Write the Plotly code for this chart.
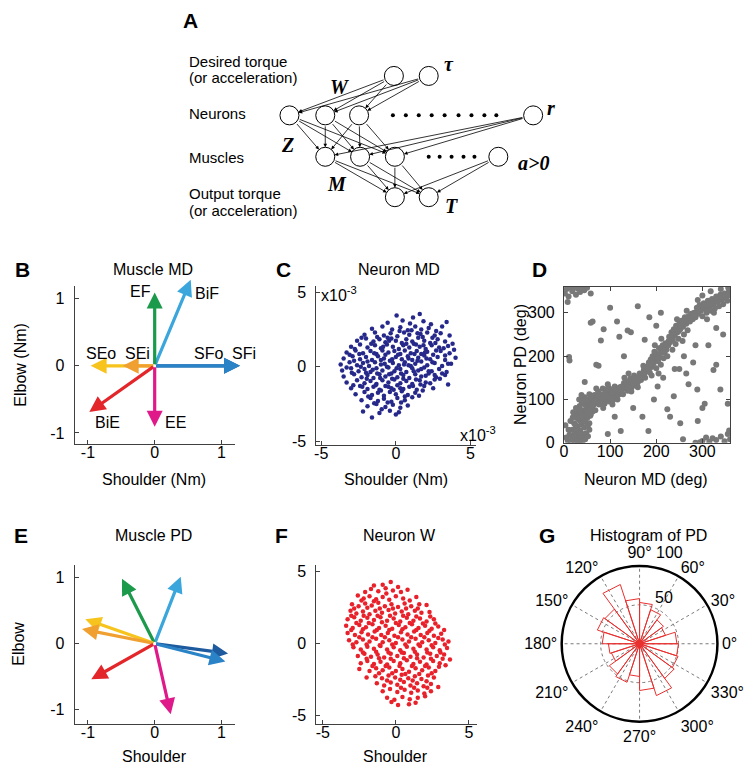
import plotly.graph_objects as go

W, H = 744, 775
FONT = "Liberation Sans, Arial, Helvetica, sans-serif"
SERIF = "Liberation Serif, Times New Roman, serif"
AX = "#404040"

# ------------------------------------------------------------------ data
muscle_names = ["SFo", "SFi", "BiF", "EF", "SEo", "SEi", "BiE", "EE"]
muscle_colors = ["#1d5a9e", "#2a83c6", "#3aa6dc", "#1a9a4a",
                 "#f7c41e", "#f0a030", "#e3262a", "#e0198b"]
# Panel B: muscle mechanical directions (Nm)
muscle_md_shoulder = [1.28, 1.28, 0.54, 0.0, -0.96, -0.48, -0.98, 0.0]
muscle_md_elbow = [0.0, 0.0, 1.28, 1.09, 0.0, 0.0, -0.69, -0.91]
# Panel E: muscle preferred directions
muscle_pd_shoulder = [1.10, 1.06, 0.39, -0.49, -1.04, -1.09, -0.95, 0.24]
muscle_pd_elbow = [-0.15, -0.27, 1.01, 0.98, 0.37, 0.22, -0.54, -1.07]

# Panel C: neuron MD (units of 1e-3 Nm)
neuron_md_pts = [
    (0.05, 3.45), (1.15, 3.3), (1.6, 3.55), (-0.55, 2.95), (0.45, 3.1), (0.95, 2.9), (1.85, 3.05), (2.35, 2.85), (3.4, 3.0),
    (-1.6, 2.55), (-0.9, 2.7), (-0.25, 2.5), (0.3, 2.65), (0.8, 2.45), (1.3, 2.7), (1.7, 2.5), (2.2, 2.6), (2.7, 2.4), (3.1, 2.7),
    (-2.1, 2.15), (-1.4, 2.3), (-0.8, 2.1), (-0.35, 2.25), (0.1, 2.05), (0.55, 2.3), (0.9, 2.15), (1.45, 2.25), (1.8, 2.0), (2.1, 2.3), (2.6, 2.1), (3.0, 2.25), (3.6, 2.1),
    (-2.6, 1.75), (-2.0, 1.9), (-1.5, 1.7), (-1.1, 1.85), (-0.7, 1.65), (-0.3, 1.9), (0.0, 1.75), (0.4, 1.6), (0.7, 1.85), (1.1, 1.7), (1.5, 1.95), (1.9, 1.75), (2.3, 1.6), (2.8, 1.85), (3.3, 1.7), (3.8, 1.55),
    (-3.0, 1.35), (-2.4, 1.5), (-1.9, 1.3), (-1.4, 1.45), (-1.0, 1.25), (-0.6, 1.5), (-0.2, 1.35), (0.2, 1.2), (0.5, 1.45), (0.9, 1.3), (1.2, 1.55), (1.6, 1.35), (2.0, 1.2), (2.4, 1.45), (2.9, 1.3), (3.5, 1.4), (3.9, 1.15),
    (-3.3, 0.95), (-2.7, 1.1), (-2.2, 0.9), (-1.7, 1.05), (-1.3, 0.85), (-0.9, 1.1), (-0.5, 0.95), (-0.1, 1.05), (0.3, 0.85), (0.6, 1.1), (1.0, 0.9), (1.4, 1.05), (1.7, 0.85), (2.1, 1.0), (2.5, 0.8), (3.0, 1.05), (3.6, 0.9),
    (-3.5, 0.55), (-2.9, 0.7), (-2.4, 0.5), (-2.0, 0.65), (-1.6, 0.45), (-1.2, 0.7), (-0.8, 0.55), (-0.4, 0.4), (0.0, 0.65), (0.4, 0.5), (0.8, 0.7), (1.1, 0.45), (1.5, 0.6), (1.9, 0.75), (2.3, 0.5), (2.8, 0.65), (3.3, 0.45), (4.0, 0.6),
    (-3.7, 0.15), (-3.1, 0.3), (-2.6, 0.1), (-2.2, 0.25), (-1.8, 0.05), (-1.4, 0.3), (-1.0, 0.15), (-0.6, 0.0), (-0.2, 0.25), (0.2, 0.1), (0.6, 0.3), (1.0, 0.05), (1.3, 0.2), (1.7, 0.35), (2.1, 0.1), (2.6, 0.25), (3.1, 0.05), (3.7, 0.2),
    (-3.6, -0.25), (-3.0, -0.1), (-2.5, -0.3), (-2.1, -0.15), (-1.7, -0.35), (-1.3, -0.1), (-0.9, -0.25), (-0.5, -0.05), (-0.1, -0.3), (0.3, -0.15), (0.7, -0.35), (1.1, -0.1), (1.5, -0.25), (1.9, -0.05), (2.4, -0.3), (2.9, -0.15), (3.4, -0.35),
    (-3.5, -0.65), (-2.8, -0.5), (-2.3, -0.7), (-1.9, -0.55), (-1.5, -0.75), (-1.1, -0.5), (-0.7, -0.65), (-0.3, -0.45), (0.1, -0.7), (0.5, -0.55), (0.9, -0.75), (1.3, -0.5), (1.7, -0.65), (2.2, -0.45), (2.7, -0.7), (3.3, -0.55),
    (-3.3, -1.05), (-2.6, -0.9), (-2.1, -1.1), (-1.7, -0.95), (-1.3, -1.15), (-0.9, -0.9), (-0.5, -1.05), (-0.1, -0.85), (0.3, -1.1), (0.7, -0.95), (1.1, -1.15), (1.6, -0.9), (2.0, -1.05), (2.6, -0.85), (3.5, -1.2),
    (-3.0, -1.45), (-2.4, -1.3), (-1.9, -1.5), (-1.5, -1.35), (-1.1, -1.55), (-0.7, -1.3), (-0.3, -1.45), (0.1, -1.25), (0.5, -1.5), (0.9, -1.35), (1.4, -1.55), (1.9, -1.3), (2.5, -1.45),
    (-2.7, -1.85), (-2.1, -1.7), (-1.6, -1.9), (-1.2, -1.75), (-0.8, -1.95), (-0.4, -1.7), (0.0, -1.85), (0.4, -1.65), (0.8, -1.9), (1.3, -1.75), (1.8, -1.6),
    (-2.3, -2.25), (-1.7, -2.1), (-1.2, -2.3), (-0.8, -2.15), (-0.3, -2.35), (0.1, -2.1), (0.6, -2.25), (1.1, -2.05),
    (-1.9, -2.65), (-1.3, -2.5), (-0.7, -2.7), (-0.2, -2.55), (0.3, -2.75), (0.8, -2.6),
    (-2.2, -3.0), (-1.1, -3.1), (-0.4, -2.95), (0.2, -3.05), (-1.6, -3.4),
    (-2.3, 1.95), (-1.25, 2.0), (-0.55, 1.95), (0.25, 2.4), (1.05, 2.45), (1.65, 2.2), (2.45, 1.95), (-2.75, 1.2), (-1.65, 1.55), (-0.85, 1.35), (-0.45, 1.75), (0.7, 1.55), (1.35, 1.5), (1.85, 1.45), (2.65, 1.6), (3.2, 1.25),
    (-3.1, 0.8), (-2.45, 0.85), (-1.45, 0.9), (-0.7, 0.8), (0.15, 0.8), (0.85, 0.55), (1.25, 0.85), (1.95, 0.95), (2.7, 1.1), (3.3, 0.75),
    (-2.8, 0.4), (-1.9, 0.35), (-1.0, 0.45), (-0.25, 0.5), (0.55, 0.15), (1.45, 0.4), (2.05, 0.55), (2.45, 0.3), (3.5, 0.2),
    (-3.3, -0.05), (-2.35, 0.0), (-1.55, -0.2), (-0.75, 0.2), (0.05, -0.1), (0.85, 0.1), (1.7, -0.15), (2.2, -0.3), (3.1, -0.45),
    (-2.95, -0.4), (-2.0, -0.4), (-1.25, -0.45), (-0.45, -0.5), (0.35, -0.45), (1.2, -0.3), (2.0, -0.6), (2.6, -0.55),
    (-2.85, -1.25), (-1.95, -0.8), (-1.05, -0.75), (-0.25, -0.8), (0.5, -0.8), (1.35, -0.85), (2.3, -1.1), (2.95, -0.8),
    (-2.25, -1.35), (-1.35, -1.25), (-0.5, -1.35), (0.3, -1.45), (1.15, -1.3), (1.65, -1.2),
    (-1.85, -2.0), (-1.0, -1.6), (-0.15, -1.55), (0.6, -2.0), (1.55, -1.95), (-1.45, -2.45), (-0.55, -2.4), (0.35, -2.4), (-0.95, -2.85), (0.0, -3.2),
]
neuron_md_shoulder = [p[0] for p in neuron_md_pts]
neuron_md_elbow = [p[1] for p in neuron_md_pts]

# Panel F: neuron W
neuron_w_pts = [
    (-1.5, 4.05), (-0.9, 4.1), (-0.35, 4.3), (0.15, 3.95),
    (-2.1, 3.6), (-1.7, 3.8), (-1.2, 3.65), (-0.7, 3.85), (-0.2, 3.7), (0.35, 3.6), (0.8, 3.75),
    (-2.6, 3.35), (-2.2, 3.15), (-1.8, 3.3), (-1.35, 3.1), (-0.9, 3.25), (-0.45, 3.05), (0.0, 3.3), (0.5, 3.15), (0.95, 3.0), (1.4, 3.25),
    (-3.0, 2.75), (-2.55, 2.6), (-2.1, 2.8), (-1.65, 2.65), (-1.2, 2.85), (-0.75, 2.6), (-0.3, 2.75), (0.15, 2.55), (0.6, 2.8), (1.05, 2.6), (1.6, 2.75), (2.1, 2.7),
    (-3.1, 2.3), (-2.7, 2.1), (-2.25, 2.25), (-1.8, 2.05), (-1.4, 2.3), (-0.95, 2.15), (-0.5, 2.35), (-0.05, 2.1), (0.4, 2.25), (0.85, 2.05), (1.3, 2.3), (1.75, 2.15), (2.3, 2.2),
    (-3.3, 1.7), (-2.85, 1.85), (-2.4, 1.6), (-1.95, 1.8), (-1.5, 1.65), (-1.05, 1.85), (-0.6, 1.6), (-0.15, 1.75), (0.3, 1.55), (0.75, 1.8), (1.2, 1.6), (1.65, 1.75), (2.1, 1.55), (2.6, 1.7),
    (-3.4, 1.25), (-2.95, 1.1), (-2.5, 1.3), (-2.05, 1.15), (-1.6, 1.35), (-1.15, 1.1), (-0.7, 1.25), (-0.25, 1.05), (0.2, 1.3), (0.65, 1.15), (1.1, 1.35), (1.55, 1.1), (2.0, 1.25), (2.45, 1.05), (2.9, 1.2),
    (-3.3, 0.75), (-2.8, 0.6), (-2.35, 0.8), (-1.9, 0.65), (-1.45, 0.85), (-1.0, 0.6), (-0.55, 0.75), (-0.1, 0.55), (0.35, 0.8), (0.8, 0.65), (1.25, 0.85), (1.7, 0.6), (2.15, 0.75), (2.6, 0.55), (3.1, 0.7),
    (-3.2, 0.25), (-2.7, 0.1), (-2.25, 0.3), (-1.8, 0.15), (-1.35, 0.35), (-0.9, 0.1), (-0.45, 0.25), (0.0, 0.05), (0.45, 0.3), (0.9, 0.15), (1.35, 0.35), (1.8, 0.1), (2.25, 0.25), (2.7, 0.05), (3.2, 0.3), (3.6, 0.15),
    (-2.9, -0.25), (-2.4, -0.4), (-1.95, -0.2), (-1.5, -0.35), (-1.05, -0.15), (-0.6, -0.4), (-0.15, -0.25), (0.3, -0.45), (0.75, -0.2), (1.2, -0.35), (1.65, -0.15), (2.1, -0.4), (2.55, -0.25), (3.0, -0.45), (3.5, -0.3),
    (-2.6, -0.85), (-2.15, -0.7), (-1.7, -0.9), (-1.25, -0.75), (-0.8, -0.95), (-0.35, -0.7), (0.1, -0.85), (0.55, -0.65), (1.0, -0.9), (1.45, -0.75), (1.9, -0.95), (2.35, -0.7), (2.8, -0.85), (3.3, -0.75), (3.7, -1.1),
    (-2.4, -1.35), (-1.95, -1.2), (-1.5, -1.4), (-1.05, -1.25), (-0.6, -1.45), (-0.15, -1.2), (0.3, -1.35), (0.75, -1.15), (1.2, -1.4), (1.65, -1.25), (2.1, -1.45), (2.55, -1.2), (3.0, -1.35), (3.4, -1.5),
    (-2.5, -1.75), (-1.8, -1.9), (-1.35, -1.7), (-0.9, -1.85), (-0.45, -1.65), (0.0, -1.9), (0.45, -1.75), (0.9, -1.95), (1.35, -1.7), (1.8, -1.85), (2.25, -1.65), (2.7, -1.9),
    (-2.0, -2.35), (-1.4, -2.25), (-0.95, -2.4), (-0.5, -2.2), (-0.05, -2.35), (0.4, -2.15), (0.85, -2.4), (1.3, -2.25), (1.75, -2.45), (2.2, -2.2), (2.6, -2.35),
    (-1.3, -2.75), (-0.8, -2.9), (-0.35, -2.7), (0.1, -2.85), (0.55, -2.65), (1.0, -2.9), (1.45, -2.75), (1.9, -2.95), (2.4, -2.8), (2.9, -3.0),
    (-0.9, -3.3), (-0.4, -3.15), (0.1, -3.35), (0.6, -3.2), (1.05, -3.4), (1.5, -3.25), (1.95, -3.45), (2.4, -3.3),
    (-0.6, -3.75), (-0.1, -3.9), (0.45, -3.7), (0.95, -3.85), (1.5, -3.75), (2.0, -3.65),
    (0.15, -4.25), (0.9, -4.2), (1.35, -4.1), (-0.3, -4.05),
    (-2.35, 3.0), (-1.5, 2.95), (-0.65, 3.5), (-2.85, 2.45), (-1.95, 2.5), (-1.1, 2.45), (-0.2, 2.45), (0.7, 2.45), (1.5, 2.45),
    (-3.05, 1.95), (-2.2, 1.95), (-1.25, 1.95), (-0.4, 1.95), (0.5, 1.95), (1.4, 1.9), (2.35, 1.9),
    (-2.7, 1.45), (-1.85, 1.45), (-0.95, 1.5), (0.0, 1.45), (0.95, 1.45), (1.85, 1.4), (2.7, 1.4),
    (-3.05, 0.95), (-2.25, 1.0), (-1.3, 0.95), (-0.45, 0.95), (0.45, 1.0), (1.4, 0.95), (2.3, 0.9), (3.3, 0.95),
    (-2.5, 0.45), (-1.6, 0.45), (-0.75, 0.45), (0.15, 0.45), (1.05, 0.45), (1.95, 0.45), (2.9, 0.4),
    (-2.95, -0.05), (-2.0, -0.05), (-1.1, -0.1), (-0.25, -0.05), (0.65, -0.05), (1.55, -0.05), (2.45, -0.1), (3.35, -0.05),
    (-2.25, -0.6), (-1.35, -0.55), (-0.5, -0.6), (0.4, -0.6), (1.3, -0.55), (2.15, -0.6), (3.05, -0.6),
    (-2.0, -1.05), (-1.15, -1.0), (-0.35, -1.05), (0.55, -1.0), (1.45, -1.0), (2.4, -1.05), (3.2, -1.05),
    (-1.6, -1.55), (-0.7, -1.55), (0.25, -1.55), (1.1, -1.55), (2.0, -1.55), (2.95, -1.6),
    (-1.15, -2.05), (-0.25, -2.05), (0.65, -2.1), (1.6, -2.1), (2.45, -2.05),
    (-0.6, -2.55), (0.3, -2.5), (1.15, -2.55), (2.1, -2.6), (0.35, -3.05), (1.25, -3.05), (2.15, -3.05),
]
neuron_w_shoulder = [p[0] for p in neuron_w_pts]
neuron_w_elbow = [p[1] for p in neuron_w_pts]

# Panel D: neuron MD vs PD (deg)
neuron_md_pd_pts = [
    (8, 5), (12, 18), (15, 3), (18, 30), (20, 12), (22, 45), (24, 2), (25, 25), (27, 60), (28, 8), (30, 38), (31, 70), (32, 15), (33, 52), (34, 85), (35, 28), (36, 4), (37, 62), (38, 42), (39, 92), (40, 20), (41, 75), (42, 55), (43, 10), (44, 35), (45, 88), (46, 65), (47, 48), (48, 22), (49, 78), (50, 95), (51, 58), (52, 40), (53, 70), (54, 85), (55, 30), (56, 100), (57, 62), (58, 80), (60, 92), (14, 50), (10, 30), (26, 80), (29, 2), (40, 3), (33, 100), (23, 65), (19, 58), (46, 8), (52, 15), (17, 8), (5, 12), (3, 40), (45, 105), (38, 110),
    (20, 70), (25, 40), (30, 55), (35, 75), (40, 60), (45, 50), (50, 72), (55, 45), (42, 95), (48, 100), (36, 18), (28, 28), (22, 18), (58, 65), (62, 72), (65, 88), (60, 105), (55, 112),
    (62, 85), (64, 98), (66, 110), (68, 75), (70, 92), (72, 105), (74, 118), (76, 88), (78, 100), (80, 112), (82, 95), (84, 125), (86, 105), (88, 90), (90, 118), (92, 100), (94, 110), (96, 128), (98, 95), (100, 115), (102, 105), (104, 122), (106, 98), (108, 112), (110, 130), (112, 108), (114, 118), (116, 100), (118, 125), (120, 112), (70, 125), (85, 80), (95, 135), (105, 88),
    (66, 95), (75, 108), (82, 102), (88, 112), (93, 122), (99, 105), (103, 115), (108, 125), (113, 118), (117, 110), (121, 128), (79, 92), (91, 108),
    (122, 118), (125, 130), (128, 112), (130, 138), (133, 125), (136, 142), (138, 120), (141, 133), (144, 148), (147, 128), (150, 140), (152, 155), (155, 135), (158, 150), (161, 142), (164, 160), (167, 145), (170, 158), (173, 168), (176, 150), (179, 165), (131, 150), (146, 118), (160, 128), (172, 178), (140, 160),
    (126, 122), (132, 132), (137, 130), (143, 140), (149, 132), (154, 146), (159, 138), (163, 152), (168, 152), (174, 160), (178, 172),
    (182, 170), (184, 185), (186, 162), (188, 192), (190, 175), (192, 200), (194, 183), (196, 210), (198, 190), (200, 172), (202, 205), (204, 188), (206, 218), (208, 198), (210, 180), (212, 212), (214, 225), (216, 195), (218, 208), (220, 230), (222, 215), (224, 200), (197, 225), (211, 240), (205, 160), (190, 155),
    (183, 178), (187, 180), (191, 190), (195, 195), (199, 200), (203, 196), (207, 205), (211, 220), (215, 210), (219, 220), (223, 225),
    (226, 225), (228, 245), (230, 232), (233, 255), (236, 238), (238, 262), (240, 248), (243, 270), (246, 255), (248, 240), (250, 275), (252, 262), (255, 282), (258, 268), (260, 250), (262, 290), (265, 275), (268, 260), (270, 292), (273, 280), (276, 298), (279, 285), (235, 215), (245, 285), (257, 235), (266, 305), (242, 228),
    (227, 235), (231, 245), (235, 250), (239, 255), (244, 262), (249, 258), (253, 270), (257, 275), (261, 280), (267, 285), (272, 290), (277, 292),
    (282, 300), (285, 290), (288, 312), (291, 298), (294, 318), (297, 305), (300, 292), (303, 322), (306, 310), (309, 300), (312, 328), (315, 315), (318, 305), (321, 332), (324, 320), (327, 310), (330, 338), (333, 325), (336, 315), (339, 342), (342, 330), (345, 320), (348, 345), (351, 335), (354, 328), (357, 348), (360, 340), (290, 330), (310, 285), (325, 300), (340, 355), (356, 358), (300, 340), (318, 350),
    (283, 295), (289, 305), (295, 310), (301, 315), (307, 318), (313, 320), (319, 322), (325, 328), (331, 330), (337, 333), (343, 338), (349, 340), (355, 342),
    (2, 345), (6, 355), (10, 338), (14, 358), (18, 350), (22, 360), (26, 342), (30, 356), (35, 348), (40, 360), (44, 352), (50, 358), (58, 345), (8, 325), (12, 190),
    (258, 8), (285, 0), (300, 4), (308, 12), (315, 2), (322, 10), (330, 6), (340, 14), (348, 3), (355, 20), (360, 8), (358, 28), (295, 1),
    (11, 198), (58, 277), (62, 280), (80, 236), (75, 178), (138, 259), (145, 255), (160, 315), (185, 290), (100, 312), (120, 245), (203, 130), (252, 45), (238, 107), (289, 123), (324, 168), (313, 225), (339, 123), (224, 77), (183, 27), (123, 27), (230, 60), (270, 135), (290, 50), (300, 80), (305, 90), (170, 60), (150, 80), (250, 170), (260, 200), (330, 180), (355, 90), (95, 20), (70, 180), (45, 140), (110, 60), (195, 100), (280, 185), (215, 150), (240, 170), (130, 200), (115, 280), (86, 262), (175, 238), (200, 270), (210, 300), (285, 225), (265, 160), (345, 250), (330, 265),
]
neuron_md_deg = [p[0] for p in neuron_md_pd_pts]
neuron_pd_deg = [p[1] for p in neuron_md_pd_pts]

# Panel G: rose histogram of PD (18-degree bins)
pd_bin_centers = [9, 27, 45, 63, 81, 99, 117, 135, 153, 171, 189, 207, 225, 243, 261, 279, 297, 315, 333, 351]
pd_hist_counts = [48, 35, 38, 46, 53, 58, 80, 55, 57, 48, 40, 38, 48, 52, 42, 60, 70, 55, 52, 50]
pd_bin_width = 18
pd_radial_ticks = ["50", "100"]

# ------------------------------------------------------------------ layout helpers
def xd(a, b):
    return [a / W, b / W]

def yd(top, bottom):
    return [1 - bottom / H, 1 - top / H]

def px(x, y):
    return x / W, 1 - y / H

tick_font = dict(family=FONT, size=16, color="black")

def cart_axis(domain, rng, tickvals, ticktext, anchor, mirror=False, standoff=3):
    return dict(domain=domain, range=rng, tickvals=tickvals, ticktext=ticktext,
                anchor=anchor, showline=True, linecolor=AX, linewidth=1,
                ticks="inside", ticklen=4, tickcolor=AX, showgrid=False,
                zeroline=False, tickfont=tick_font,
                mirror="ticks" if mirror else False, fixedrange=True,
                ticklabelstandoff=standoff)

XSO = -6  # x tick-label standoff

fig = go.Figure()

# ------------------------------------------------------------------ Panel A diagram (hidden axis in pixel units)
diagram = dict(
    tau=[(392, 75), (427, 75)],
    neurons=[(287, 115), (323, 115), (357, 115), (532, 115)],
    muscles=[(323, 157), (358, 157), (393, 157), (497, 157)],
    outputs=[(393, 198), (427, 198)],
    neuron_dots=[(391, 115), (404, 115), (417, 115), (430, 115), (443, 115), (457, 115), (470, 115), (483, 115), (495, 115)],
    muscle_dots=[(427, 157), (438, 157), (450, 157), (462, 157), (473, 157)],
)
nodes = diagram["tau"] + diagram["neurons"] + diagram["muscles"] + diagram["outputs"]
dots = diagram["neuron_dots"] + diagram["muscle_dots"]
fig.add_trace(go.Scatter(x=[p[0] for p in dots], y=[p[1] for p in dots], mode="markers",
                         marker=dict(size=4, color="black"), xaxis="x6", yaxis="y6", hoverinfo="skip"))
fig.add_trace(go.Scatter(x=[p[0] for p in nodes], y=[p[1] for p in nodes], mode="markers",
                         marker=dict(size=19, color="white", line=dict(color="black", width=1)),
                         xaxis="x6", yaxis="y6", hoverinfo="skip"))

annotations = []

def edge(src, dst):
    annotations.append(dict(x=dst[0], y=dst[1], ax=src[0], ay=src[1], xref="x6", yref="y6",
                            axref="x6", ayref="y6", text="", showarrow=True, arrowhead=2,
                            arrowsize=0.9, arrowwidth=0.8, arrowcolor="black",
                            standoff=9.5, startstandoff=9.5))

for s in diagram["tau"]:
    for d in diagram["neurons"][:3]:
        edge(s, d)
for s in diagram["neurons"]:
    for d in diagram["muscles"][:3]:
        edge(s, d)
for s in diagram["muscles"]:
    for d in diagram["outputs"]:
        edge(s, d)

def dtext(x, y, text, size=15, family=FONT, xanchor="left"):
    annotations.append(dict(x=x, y=y, xref="x6", yref="y6", text=text, showarrow=False,
                            xanchor=xanchor, yanchor="middle", font=dict(family=family, size=size, color="black")))

dtext(184, 60, "Desired torque")
dtext(184, 77, "(or acceleration)")
dtext(184, 113, "Neurons")
dtext(184, 158, "Muscles")
dtext(184, 194, "Output torque")
dtext(184, 211, "(or acceleration)")
for (x, y, t) in [(447, 63, "τ"), (337, 86, "W"), (550, 108, "r"), (285, 145, "Z"),
                  (532, 163, "a>0"), (335, 185, "M"), (450, 207, "T")]:
    dtext(x, y, "<b><i>%s</i></b>" % t, size=20, family=SERIF, xanchor="center")

# ------------------------------------------------------------------ Panel B & E arrows
def arrows(xs, ys, xr, yr):
    for i in range(len(xs)):
        annotations.append(dict(x=xs[i], y=ys[i], ax=0, ay=0, xref=xr, yref=yr, axref=xr, ayref=yr,
                                text="", showarrow=True, arrowhead=2, arrowsize=1.0,
                                arrowwidth=3.2, arrowcolor=muscle_colors[i]))

fig.add_trace(go.Scatter(x=[0], y=[0], mode="markers", marker=dict(size=1, opacity=0), xaxis="x", yaxis="y", hoverinfo="skip"))
fig.add_trace(go.Scatter(x=[0], y=[0], mode="markers", marker=dict(size=1, opacity=0), xaxis="x4", yaxis="y4", hoverinfo="skip"))
arrows(muscle_md_shoulder, muscle_md_elbow, "x", "y")
arrows(muscle_pd_shoulder, muscle_pd_elbow, "x4", "y4")

# ------------------------------------------------------------------ scatter panels
fig.add_trace(go.Scatter(x=neuron_md_shoulder, y=neuron_md_elbow, mode="markers",
                         marker=dict(size=4.5, color="#26288a", line=dict(width=0)),
                         xaxis="x2", yaxis="y2", hoverinfo="skip"))
fig.add_trace(go.Scatter(x=neuron_md_deg, y=neuron_pd_deg, mode="markers",
                         marker=dict(size=6, color="#787878", line=dict(width=0)),
                         xaxis="x3", yaxis="y3", hoverinfo="skip"))
fig.add_trace(go.Scatter(x=neuron_w_shoulder, y=neuron_w_elbow, mode="markers",
                         marker=dict(size=4.5, color="#e8212b", line=dict(width=0)),
                         xaxis="x5", yaxis="y5", hoverinfo="skip"))

# ------------------------------------------------------------------ rose plot
rose_r, rose_t = [], []
half = pd_bin_width / 2
for c, t in zip(pd_hist_counts, pd_bin_centers):
    rose_r += [0, c, c, 0, None]
    rose_t += [t - half, t - half, t + half, t + half, None]
fig.add_trace(go.Scatterpolar(r=rose_r, theta=rose_t, mode="lines",
                              line=dict(color="#e8302f", width=1), hoverinfo="skip"))
fig.add_trace(go.Scatterpolar(r=[0], theta=[0], mode="markers",
                              marker=dict(size=8, color="#e8302f"), hoverinfo="skip"))

# ------------------------------------------------------------------ text annotations (titles, labels)
def ptext(x, y, text, size=16, bold=False, angle=0, xanchor="center"):
    xx, yy = px(x, y)
    annotations.append(dict(x=xx, y=yy, xref="paper", yref="paper", text="<b>%s</b>" % text if bold else text,
                            showarrow=False, textangle=angle, xanchor=xanchor, yanchor="middle",
                            borderpad=0, font=dict(family=FONT, size=size, color="black")))

md_label_px = {"SEo": (98, 357), "SEi": (134, 357), "SFo": (206, 357), "SFi": (241, 357),
               "BiE": (104, 427), "EE": (172, 427), "EF": (137, 294), "BiF": (204, 296)}
for name, (x, y) in md_label_px.items():
    ptext(x, y, name)

for (x, y, t) in [(188, 19, "A"), (19, 271, "B"), (281, 271, "C"), (538, 271, "D"),
                  (17, 541, "E"), (279, 541, "F"), (546, 541, "G")]:
    ptext(x, y, t, size=21, bold=True)
for (x, y, t) in [(150, 271, "Muscle MD"), (397, 271, "Neuron MD"), (150, 541, "Muscle PD"),
                  (398, 541, "Neuron W"), (648, 541, "Histogram of PD")]:
    ptext(x, y, t)
ptext(151, 484, "Shoulder (Nm)")
ptext(394, 484, "Shoulder (Nm)")
ptext(645, 484, "Neuron MD (deg)")
ptext(151, 765, "Shoulder")
ptext(394, 765, "Shoulder")
ptext(17, 368, "Elbow (Nm)", angle=-90)
ptext(520, 368, "Neuron PD (deg)", angle=-90)
ptext(15, 651, "Elbow", angle=-90)
ptext(318, 296, "x10<sup>-3</sup>", xanchor="left")
ptext(457, 438, "x10<sup>-3</sup>", xanchor="left")
# radial tick labels of the rose plot
ptext(664, 604, pd_radial_ticks[0])
ptext(669, 558, pd_radial_ticks[1])

# ------------------------------------------------------------------ layout
fig.update_layout(
    width=W, height=H, margin=dict(l=0, r=0, t=0, b=0),
    paper_bgcolor="white", plot_bgcolor="white", showlegend=False,
    font=dict(family=FONT, size=16, color="black"),
    xaxis=cart_axis(xd(71, 232), [-1.2, 1.2], [-1, 0, 1], ["-1", "0", "1"], "y", standoff=XSO),
    yaxis=cart_axis(yd(288, 448), [-1.16, 1.19], [-1, 0, 1], ["-1", "0", "1"], "x", standoff=6),
    xaxis2=cart_axis(xd(314, 475), [-5.33, 5.4], [-5, 0, 5], ["-5", "0", "5"], "y2", standoff=XSO),
    yaxis2=cart_axis(yd(288, 449), [-5.23, 5.43], [-5, 0, 5], ["-5", "0", "5"], "x2", standoff=6),
    xaxis3=cart_axis(xd(563, 730), [0, 360], [0, 100, 200, 300], ["0", "100", "200", "300"], "y3", mirror=True, standoff=XSO),
    yaxis3=cart_axis(yd(289, 447), [0, 360], [0, 100, 200, 300], ["0", "100", "200", "300"], "x3", mirror=True, standoff=5),
    xaxis4=cart_axis(xd(71, 232), [-1.2, 1.2], [-1, 0, 1], ["-1", "0", "1"], "y4", standoff=XSO),
    yaxis4=cart_axis(yd(571, 732), [-1.21, 1.19], [-1, 0, 1], ["-1", "0", "1"], "x4", standoff=6),
    xaxis5=cart_axis(xd(314, 476), [-5.44, 5.58], [-5, 0, 5], ["-5", "0", "5"], "y5", standoff=XSO),
    yaxis5=cart_axis(yd(571, 732), [-5.55, 5.48], [-5, 0, 5], ["-5", "0", "5"], "x5", standoff=6),
    xaxis6=dict(domain=[0, 1], range=[0, W], visible=False, fixedrange=True, anchor="y6"),
    yaxis6=dict(domain=[1 - 232.5 / H, 1], range=[232.5, 0], visible=False, fixedrange=True, anchor="x6"),
    polar=dict(
        domain=dict(x=xd(560, 718), y=yd(572, 730)),
        bgcolor="white",
        radialaxis=dict(range=[0, 100], tickvals=[50, 100], showticklabels=False, angle=80,
                        showline=False, ticks="", gridcolor="#7a7a7a", griddash="dot", gridwidth=1),
        angularaxis=dict(dtick=30, showline=True, linecolor="black", linewidth=2.5, ticks="",
                         gridcolor="#7a7a7a", griddash="dot", gridwidth=1, tickfont=tick_font),
    ),
    annotations=annotations,
)

fig.write_html("out.html", config={"displayModeBar": False, "staticPlot": True},
               post_script="document.body.style.margin='0px';document.body.style.overflow='hidden';")
